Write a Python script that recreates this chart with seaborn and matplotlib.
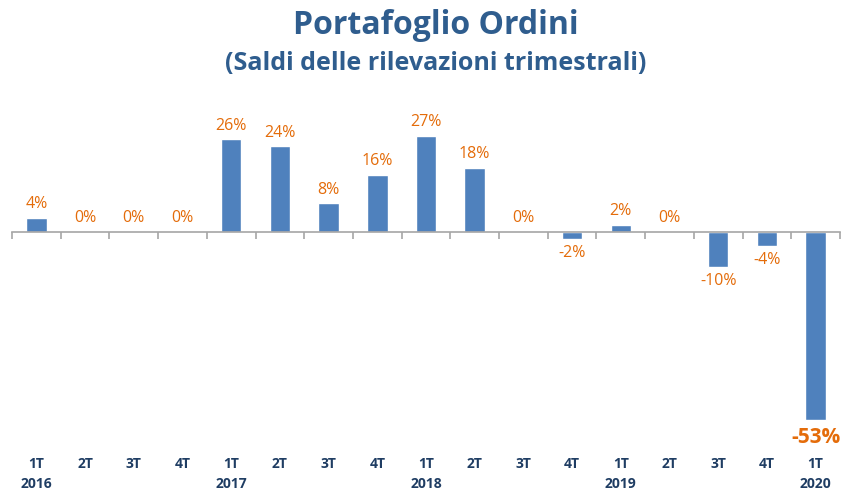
import matplotlib.pyplot as plt
import matplotlib.transforms as mtransforms
import seaborn as sns
import numpy as np

# dati
trimestri = ['1T', '2T', '3T', '4T', '1T', '2T', '3T', '4T', '1T', '2T',
             '3T', '4T', '1T', '2T', '3T', '4T', '1T']
anni = ['2016', '', '', '', '2017', '', '', '', '2018', '', '', '', '2019', '', '', '', '2020']
saldi = [4, 0, 0, 0, 26, 24, 8, 16, 27, 18, 0, -2, 2, 0, -10, -4, -53]

blu = '#4F81BD'
arancio = '#E46C0A'
blu_scuro = '#1F3D63'
titolo_col = '#2F5D8E'

sns.set_style('white')
plt.rcParams['font.family'] = ['Open Sans', 'DejaVu Sans']

fig = plt.figure(figsize=(8.46, 4.91), dpi=100)
ax = fig.add_axes([12 / 846, 53 / 491, 828 / 846, 320 / 491])

x = np.arange(len(saldi))
sns.barplot(x=x, y=saldi, color=blu, width=0.42, ax=ax, saturation=1)

ax.set_xlim(-0.5, len(saldi) - 0.5)
ax.set_ylim(-58, 32)

for s in ['top', 'right', 'left']:
    ax.spines[s].set_visible(False)
ax.spines['bottom'].set_position(('data', 0))
ax.spines['bottom'].set_color('#A6A6A6')
ax.spines['bottom'].set_linewidth(1.2)
ax.set_yticks([])
ax.set_xticks(np.arange(-0.5, len(saldi), 1))
ax.set_xticklabels([])
ax.tick_params(axis='x', direction='out', length=5, color='#A6A6A6', width=1.2, bottom=True)
ax.set_xlabel('')
ax.set_ylabel('')

# etichette dei valori
for i, v in enumerate(saldi):
    if v == -53:
        ax.text(i, v - 2, f'{v}%', ha='center', va='top', color=arancio,
                fontsize=15, fontweight='bold')
    elif v < 0:
        ax.text(i, v - 1.6, f'{v}%', ha='center', va='top', color=arancio, fontsize=11.5)
    else:
        ax.text(i, v + 1.6, f'{v}%', ha='center', va='bottom', color=arancio, fontsize=11.5)

# etichette asse (trimestre / anno)
trans = mtransforms.blended_transform_factory(ax.transData, fig.transFigure)
for i, (t, a) in enumerate(zip(trimestri, anni)):
    fig.text(i, 1 - 464 / 491, t, transform=trans, ha='center', va='center',
             color=blu_scuro, fontsize=10, fontweight='bold')
    if a:
        fig.text(i, 1 - 484 / 491, a, transform=trans, ha='center', va='center',
                 color=blu_scuro, fontsize=10, fontweight='bold')

fig.text(0.515, 1 - 26 / 491, 'Portafoglio Ordini', ha='center', va='center',
         color=titolo_col, fontsize=23, fontweight='bold')
fig.text(0.515, 1 - 63 / 491, '(Saldi delle rilevazioni trimestrali)', ha='center', va='center',
         color=titolo_col, fontsize=18, fontweight='bold')

plt.savefig('out.png', dpi=100)
